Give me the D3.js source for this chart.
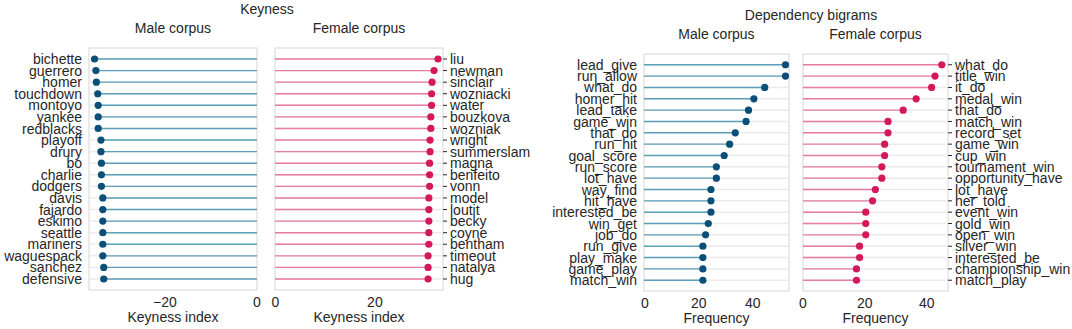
<!DOCTYPE html>
<meta charset="utf-8">
<script src="https://cdn.jsdelivr.net/npm/d3@7"></script>
<style>
body { margin: 0; background: white; }
svg text { font-family: "Liberation Sans", Arial, sans-serif; fill: #262626; }
</style>
<div id="chart"></div>
<script>
// keyness data
var maleWords = ["bichette","guerrero","homer","touchdown","montoyo","yankee","redblacks","playoff","drury","bo",
  "charlie","dodgers","davis","fajardo","eskimo","seattle","mariners","waguespack","sanchez","defensive"];
var maleKeyness = [-35.3,-35.0,-34.9,-34.6,-34.5,-34.5,-34.5,-33.9,-33.9,-33.8,
  -33.8,-33.8,-33.5,-33.5,-33.5,-33.5,-33.5,-33.5,-33.3,-33.3];
var femaleWords = ["liu","newman","sinclair","wozniacki","water","bouzkova","wozniak","wright","summerslam","magna",
  "benfeito","vonn","model","loutit","becky","coyne","bentham","timeout","natalya","hug"];
var femaleKeyness = [32.7,31.9,31.5,31.4,31.4,31.25,31.25,31.1,31.1,31.0,
  31.0,31.0,30.85,30.85,30.85,30.85,30.85,30.7,30.7,30.7];

// dependency bigram data
var maleBigrams = ["lead_give","run_allow","what_do","homer_hit","lead_take","game_win","that_do","run_hit","goal_score","run_score",
  "lot_have","way_find","hit_have","interested_be","win_get","job_do","run_give","play_make","game_play","match_win"];
var maleFreq = [52.1,52.1,44.4,40.4,38.4,37.5,33.5,31.4,29.4,26.5,
  26.5,24.5,24.5,24.5,23.5,22.5,21.5,21.5,21.5,21.5];
var femaleBigrams = ["what_do","title_win","it_do","medal_win","that_do","match_win","record_set","game_win","cup_win","tournament_win",
  "opportunity_have","lot_have","her_told","event_win","gold_win","open_win","silver_win","interested_be","championship_win","match_play"];
var femaleFreq = [44.9,42.7,41.6,36.6,32.4,27.5,27.5,26.4,26.4,25.5,
  25.5,23.4,22.5,20.3,20.3,20.3,18.3,18.3,17.3,17.3];

var maleDot = "#0b4f79", maleLine = "#5b9fb9";
var femaleDot = "#d5175b", femaleLine = "#e87ba2";

var svg = d3.select("#chart").append("svg")
  .attr("width", 1072).attr("height", 329);

function panel(o) {
  var g = svg.append("g");
  var x = d3.scaleLinear().domain(o.domain).range([o.x0, o.x1]);
  var y = d3.scalePoint().domain(o.cats).range([o.y0, o.y1]).padding(0.95);

  // frame
  g.append("rect")
    .attr("x", o.x0).attr("y", o.y0)
    .attr("width", o.x1 - o.x0).attr("height", o.y1 - o.y0)
    .attr("fill", "white").attr("stroke", "#d6d6d6").attr("stroke-width", 1);

  // horizontal grid
  g.selectAll(".grid").data(o.cats).enter().append("line")
    .attr("x1", o.x0).attr("x2", o.x1)
    .attr("y1", function(d) { return y(d); }).attr("y2", function(d) { return y(d); })
    .attr("stroke", "#ebebeb").attr("stroke-width", 1.5);

  var data = o.cats.map(function(c, i) { return { k: c, v: o.vals[i] }; });

  // stems: lines run to the frame edge on the zero side
  g.selectAll(".stem").data(data).enter().append("line")
    .attr("x1", function(d) { return o.stemFrom === "right" ? o.x1 : o.x0; })
    .attr("x2", function(d) { return x(d.v); })
    .attr("y1", function(d) { return y(d.k); }).attr("y2", function(d) { return y(d.k); })
    .attr("stroke", o.line).attr("stroke-width", 1.4);

  g.selectAll(".dot").data(data).enter().append("circle")
    .attr("cx", function(d) { return x(d.v); })
    .attr("cy", function(d) { return y(d.k); })
    .attr("r", 3.6).attr("fill", o.dot);

  // y labels
  if (o.side === "left") {
    g.selectAll(".yl").data(o.cats).enter().append("text")
      .attr("x", o.x0 - 7).attr("y", function(d) { return y(d); })
      .attr("dy", "0.36em").attr("text-anchor", "end")
      .attr("font-size", 14).text(function(d) { return d; });
  } else {
    g.selectAll(".yt").data(o.cats).enter().append("line")
      .attr("x1", o.x1).attr("x2", o.x1 + 4)
      .attr("y1", function(d) { return y(d); }).attr("y2", function(d) { return y(d); })
      .attr("stroke", "#262626").attr("stroke-width", 1);
    g.selectAll(".yl").data(o.cats).enter().append("text")
      .attr("x", o.x1 + 7).attr("y", function(d) { return y(d); })
      .attr("dy", "0.36em").attr("text-anchor", "start")
      .attr("font-size", 14).text(function(d) { return d; });
  }

  // x ticks
  g.selectAll(".xl").data(o.ticks).enter().append("text")
    .attr("x", function(d) { return x(d); }).attr("y", o.y1 + 17)
    .attr("text-anchor", "middle").attr("font-size", 14)
    .text(function(d) { return d < 0 ? "\u2212" + Math.abs(d) : d; });

  g.append("text")
    .attr("x", (o.x0 + o.x1) / 2).attr("y", o.y1 + 32)
    .attr("text-anchor", "middle").attr("font-size", 14).text(o.xlabel);

  g.append("text")
    .attr("x", (o.x0 + o.x1) / 2).attr("y", o.y0 - 15)
    .attr("text-anchor", "middle").attr("font-size", 14).text(o.title);
}

panel({ x0: 89, x1: 257, y0: 48, y1: 290, domain: [-36.5, 0], ticks: [-20, 0],
  cats: maleWords, vals: maleKeyness, dot: maleDot, line: maleLine, stemFrom: "right",
  side: "left", xlabel: "Keyness index", title: "Male corpus" });
panel({ x0: 275, x1: 443, y0: 48, y1: 290, domain: [-0.1, 33.7], ticks: [0, 20],
  cats: femaleWords, vals: femaleKeyness, dot: femaleDot, line: femaleLine, stemFrom: "left",
  side: "right", xlabel: "Keyness index", title: "Female corpus" });
panel({ x0: 644, x1: 789, y0: 54, y1: 291, domain: [-0.3, 53.4], ticks: [0, 20, 40],
  cats: maleBigrams, vals: maleFreq, dot: maleDot, line: maleLine, stemFrom: "left",
  side: "left", xlabel: "Frequency", title: "Male corpus" });
panel({ x0: 803, x1: 948, y0: 54, y1: 291, domain: [0, 46.9], ticks: [0, 20, 40],
  cats: femaleBigrams, vals: femaleFreq, dot: femaleDot, line: femaleLine, stemFrom: "left",
  side: "right", xlabel: "Frequency", title: "Female corpus" });

svg.append("text").attr("x", 267).attr("y", 14).attr("text-anchor", "middle")
  .attr("font-size", 14).text("Keyness");
svg.append("text").attr("x", 811).attr("y", 20).attr("text-anchor", "middle")
  .attr("font-size", 14).text("Dependency bigrams");
</script>
